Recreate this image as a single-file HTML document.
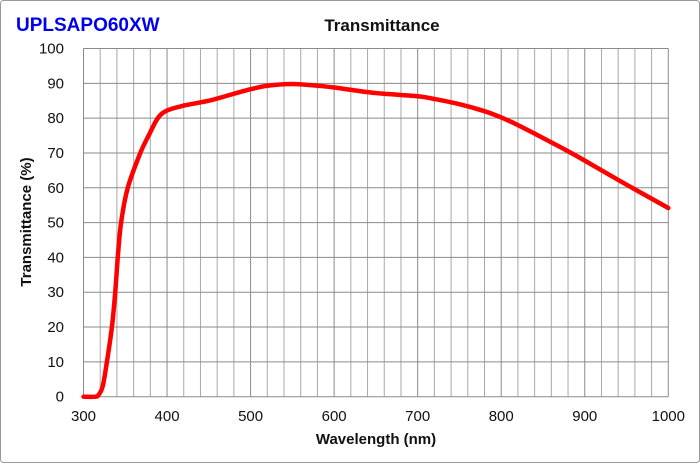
<!DOCTYPE html>
<html><head><meta charset="utf-8"><style>
body{margin:0;background:#fff}
svg{display:block;font-family:"Liberation Sans",Arial,sans-serif}
</style></head><body>
<svg id="chart" width="700" height="463" viewBox="0 0 700 463">
<rect x="0.5" y="0.5" width="699" height="462" rx="3" fill="#fff" stroke="#999"/>
<text x="16" y="31" fill="#0000ee" font-size="19" font-weight="bold">UPLSAPO60XW</text>
<text x="382" y="31" text-anchor="middle" font-size="17" font-weight="bold" fill="#111">Transmittance</text>
<g id="grid"></g>
<g id="ticks"></g>
<path id="curve" fill="none" stroke="#ff0000" stroke-width="4.5" stroke-linejoin="round" stroke-linecap="round"/>
<text x="376" y="444" text-anchor="middle" font-size="15" font-weight="bold" fill="#111">Wavelength (nm)</text>
<text transform="translate(31,222) rotate(-90)" text-anchor="middle" font-size="15" font-weight="bold" fill="#111">Transmittance (%)</text>
</svg>
<script>
const wavelengths=[300,314,318,323,328,334,338,341,345,353,368,378,389,400,420,450,480,500,520,550,580,600,650,700,720,750,780,800,820,850,880,900,950,1000];
const transmittance=[0,0,0.5,3,10,20,30,40,50,60,70,75,80,82.2,83.6,85,87,88.3,89.3,89.8,89.3,88.8,87.2,86.3,85.5,84,82,80.2,78,74.3,70.5,67.8,60.9,54.2];
const xTicks=[300,400,500,600,700,800,900,1000];
const yTicks=[0,10,20,30,40,50,60,70,80,90,100];
const X0=83.5,X1=668.3,Y0=396.7,Y1=48.5;
const xs=v=>X0+(v-300)/700*(X1-X0);
const ys=v=>Y0-v/100*(Y0-Y1);
const NS="http://www.w3.org/2000/svg";
const grid=document.getElementById('grid'),ticks=document.getElementById('ticks');
function mk(tag,attrs,parent){const e=document.createElementNS(NS,tag);for(const k in attrs)e.setAttribute(k,attrs[k]);parent.appendChild(e);return e;}
for(let w=300;w<=1000;w+=20){
  const l=mk('line',{x1:xs(w),x2:xs(w),y1:ys(0),y2:ys(100),stroke:w%100===0?'#8a8a8a':'#a8a8a8','stroke-width':1},grid);
  
  
}
yTicks.forEach(v=>{
  const l=mk('line',{x1:xs(300),x2:xs(1000),y1:ys(v),y2:ys(v),stroke:'#8a8a8a','stroke-width':1},grid);
  
  
  const t=mk('text',{x:64,y:ys(v)+5,'text-anchor':'end','font-size':15,fill:'#111'},ticks);
  t.textContent=v;
  
  
});
xTicks.forEach(v=>{
  const t=mk('text',{x:xs(v),y:421,'text-anchor':'middle','font-size':15,fill:'#111'},ticks);
  t.textContent=v;
  
  
});
const P=wavelengths.map((w,i)=>[xs(w),ys(transmittance[i])]);
let d='M'+P[0][0]+','+P[0][1];
for(let i=0;i<P.length-1;i++){
  const p0=P[Math.max(i-1,0)],p1=P[i],p2=P[i+1],p3=P[Math.min(i+2,P.length-1)];
  const c1=[p1[0]+(p2[0]-p0[0])/6,p1[1]+(p2[1]-p0[1])/6];
  const c2=[p2[0]-(p3[0]-p1[0])/6,p2[1]-(p3[1]-p1[1])/6];
  d+=` C${c1[0]},${c1[1]} ${c2[0]},${c2[1]} ${p2[0]},${p2[1]}`;
}
document.getElementById('curve').setAttribute('d',d);
</script>
</body></html>
